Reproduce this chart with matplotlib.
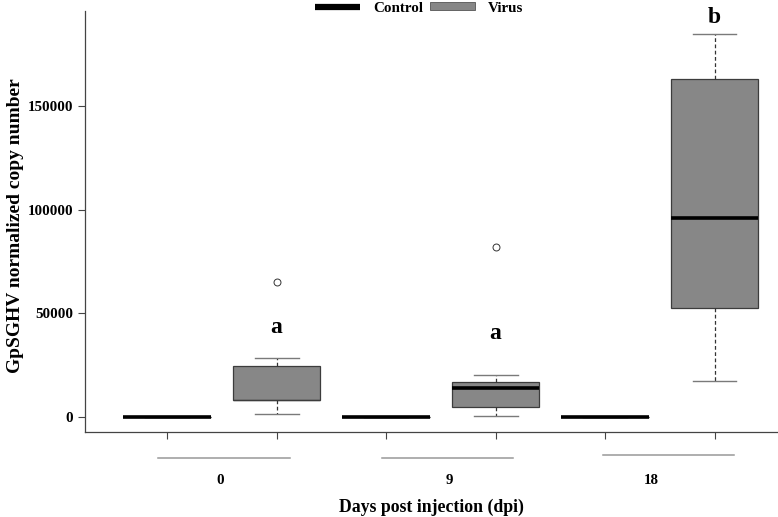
import numpy as np
import matplotlib
matplotlib.use("Agg")
import matplotlib.pyplot as plt
from matplotlib.lines import Line2D
from matplotlib.patches import Patch

plt.rcParams['font.family'] = ['Liberation Serif', 'DejaVu Serif']
plt.rcParams['font.weight'] = 'bold'

# data (copy number)
groups = ['0', '9', '18']
treat = ['Control', 'Virus', 'Control', 'Virus', 'Control', 'Virus']
q1 = [0, 8200, 0, 4800, 0, 52500]
med = [0, 8200, 0, 14000, 0, 96000]
q3 = [0, 24600, 0, 16900, 0, 163300]
whislo = [0, 1500, 0, 300, 0, 17400]
whishi = [0, 28500, 0, 20300, 0, 185000]
fliers = [[], [65200], [], [82000], [], []]
letters = ['a', 'a', 'b']
letter_y = [43000, 40200, 193000]

fill_grey = '#878787'

fig = plt.figure(figsize=(7.78, 5.17), dpi=100)
ax = fig.add_axes([0.1093, 0.1644, 0.8894, 0.8143])

stats = []
for i in range(6):
    stats.append(dict(med=med[i], q1=q1[i], q3=q3[i], whislo=whislo[i],
                      whishi=whishi[i], fliers=fliers[i]))

pos = np.arange(1, 7)
bp = ax.bxp(stats, positions=pos, widths=0.8, patch_artist=True,
            showfliers=True,
            boxprops=dict(edgecolor='#3c3c3c', linewidth=0.9),
            medianprops=dict(color='black', linewidth=2.6, solid_capstyle='butt'),
            whiskerprops=dict(color='#333333', linewidth=0.9, linestyle=(0, (3, 2))),
            capprops=dict(color='#7a7a7a', linewidth=1.0),
            capwidths=0.4,
            flierprops=dict(marker='o', markersize=5, markerfacecolor='white',
                            markeredgecolor='#333333', markeredgewidth=0.7))

for b, t in zip(bp['boxes'], treat):
    if t == 'Virus':
        b.set_facecolor(fill_grey)
    else:
        b.set_facecolor('none')
        b.set_edgecolor('black')

# the first virus median sits on the box edge and is barely visible there
bp['medians'][1].set_linewidth(1.0)
bp['medians'][1].set_color('#3c3c3c')

# significance letters over virus boxes
for k, lab in enumerate(letters):
    ax.text(pos[2 * k + 1], letter_y[k], lab, ha='center', va='center',
            fontsize=17, fontweight='bold')

ax.set_xlim(0.25, 6.57)
ax.set_ylim(-7300, 196000)

ax.set_yticks([0, 50000, 100000, 150000], ['0', '50000', '100000', '150000'])
ax.set_xticks(pos, [''] * 6)
ax.tick_params(axis='both', length=5, width=0.8, color='#444444', labelsize=10.8, pad=3.5)
for lab in ax.get_yticklabels():
    lab.set_fontweight('bold')

for s in ['top', 'right']:
    ax.spines[s].set_visible(False)
for s in ['left', 'bottom']:
    ax.spines[s].set_color('#444444')
    ax.spines[s].set_linewidth(0.9)

# group lines and labels below the axis
line_x = [(0.92, 2.12, -0.061), (2.96, 4.16, -0.061), (4.98, 6.18, -0.055)]
for x0, x1, yy in line_x:
    ax.plot([x0, x1], [yy, yy], color='#999999', lw=1.1,
            transform=ax.get_xaxis_transform(), clip_on=False)
label_x = [1.48, 3.58, 5.42]
for gx, g in zip(label_x, groups):
    ax.text(gx, -0.115, g, ha='center', va='center', fontsize=10.8,
            fontweight='bold', transform=ax.get_xaxis_transform())

ax.set_xlabel('Days post injection (dpi)', fontsize=12.8, fontweight='bold')
ax.xaxis.set_label_coords(0.5, -0.178)
ax.xaxis.label.set_va('center')
ax.set_ylabel('GpSGHV normalized copy number', fontsize=14, fontweight='bold')
ax.yaxis.set_label_coords(-0.101, 0.49)
ax.yaxis.label.set_va('center')

handles = [Line2D([], [], color='black', lw=4.5, solid_capstyle='butt'),
           Patch(facecolor=fill_grey, edgecolor='#555555', linewidth=0.6)]
fig.legend(handles, ['Control', 'Virus'], loc='center',
           bbox_to_anchor=(0.539, 1 - 8 / 517), ncol=2, frameon=False,
           handlelength=3.0, handleheight=0.4, handletextpad=0.9,
           columnspacing=0.4, borderpad=0, borderaxespad=0,
           prop=dict(weight='bold', size=10.8))

fig.savefig('out.png', dpi=100)
